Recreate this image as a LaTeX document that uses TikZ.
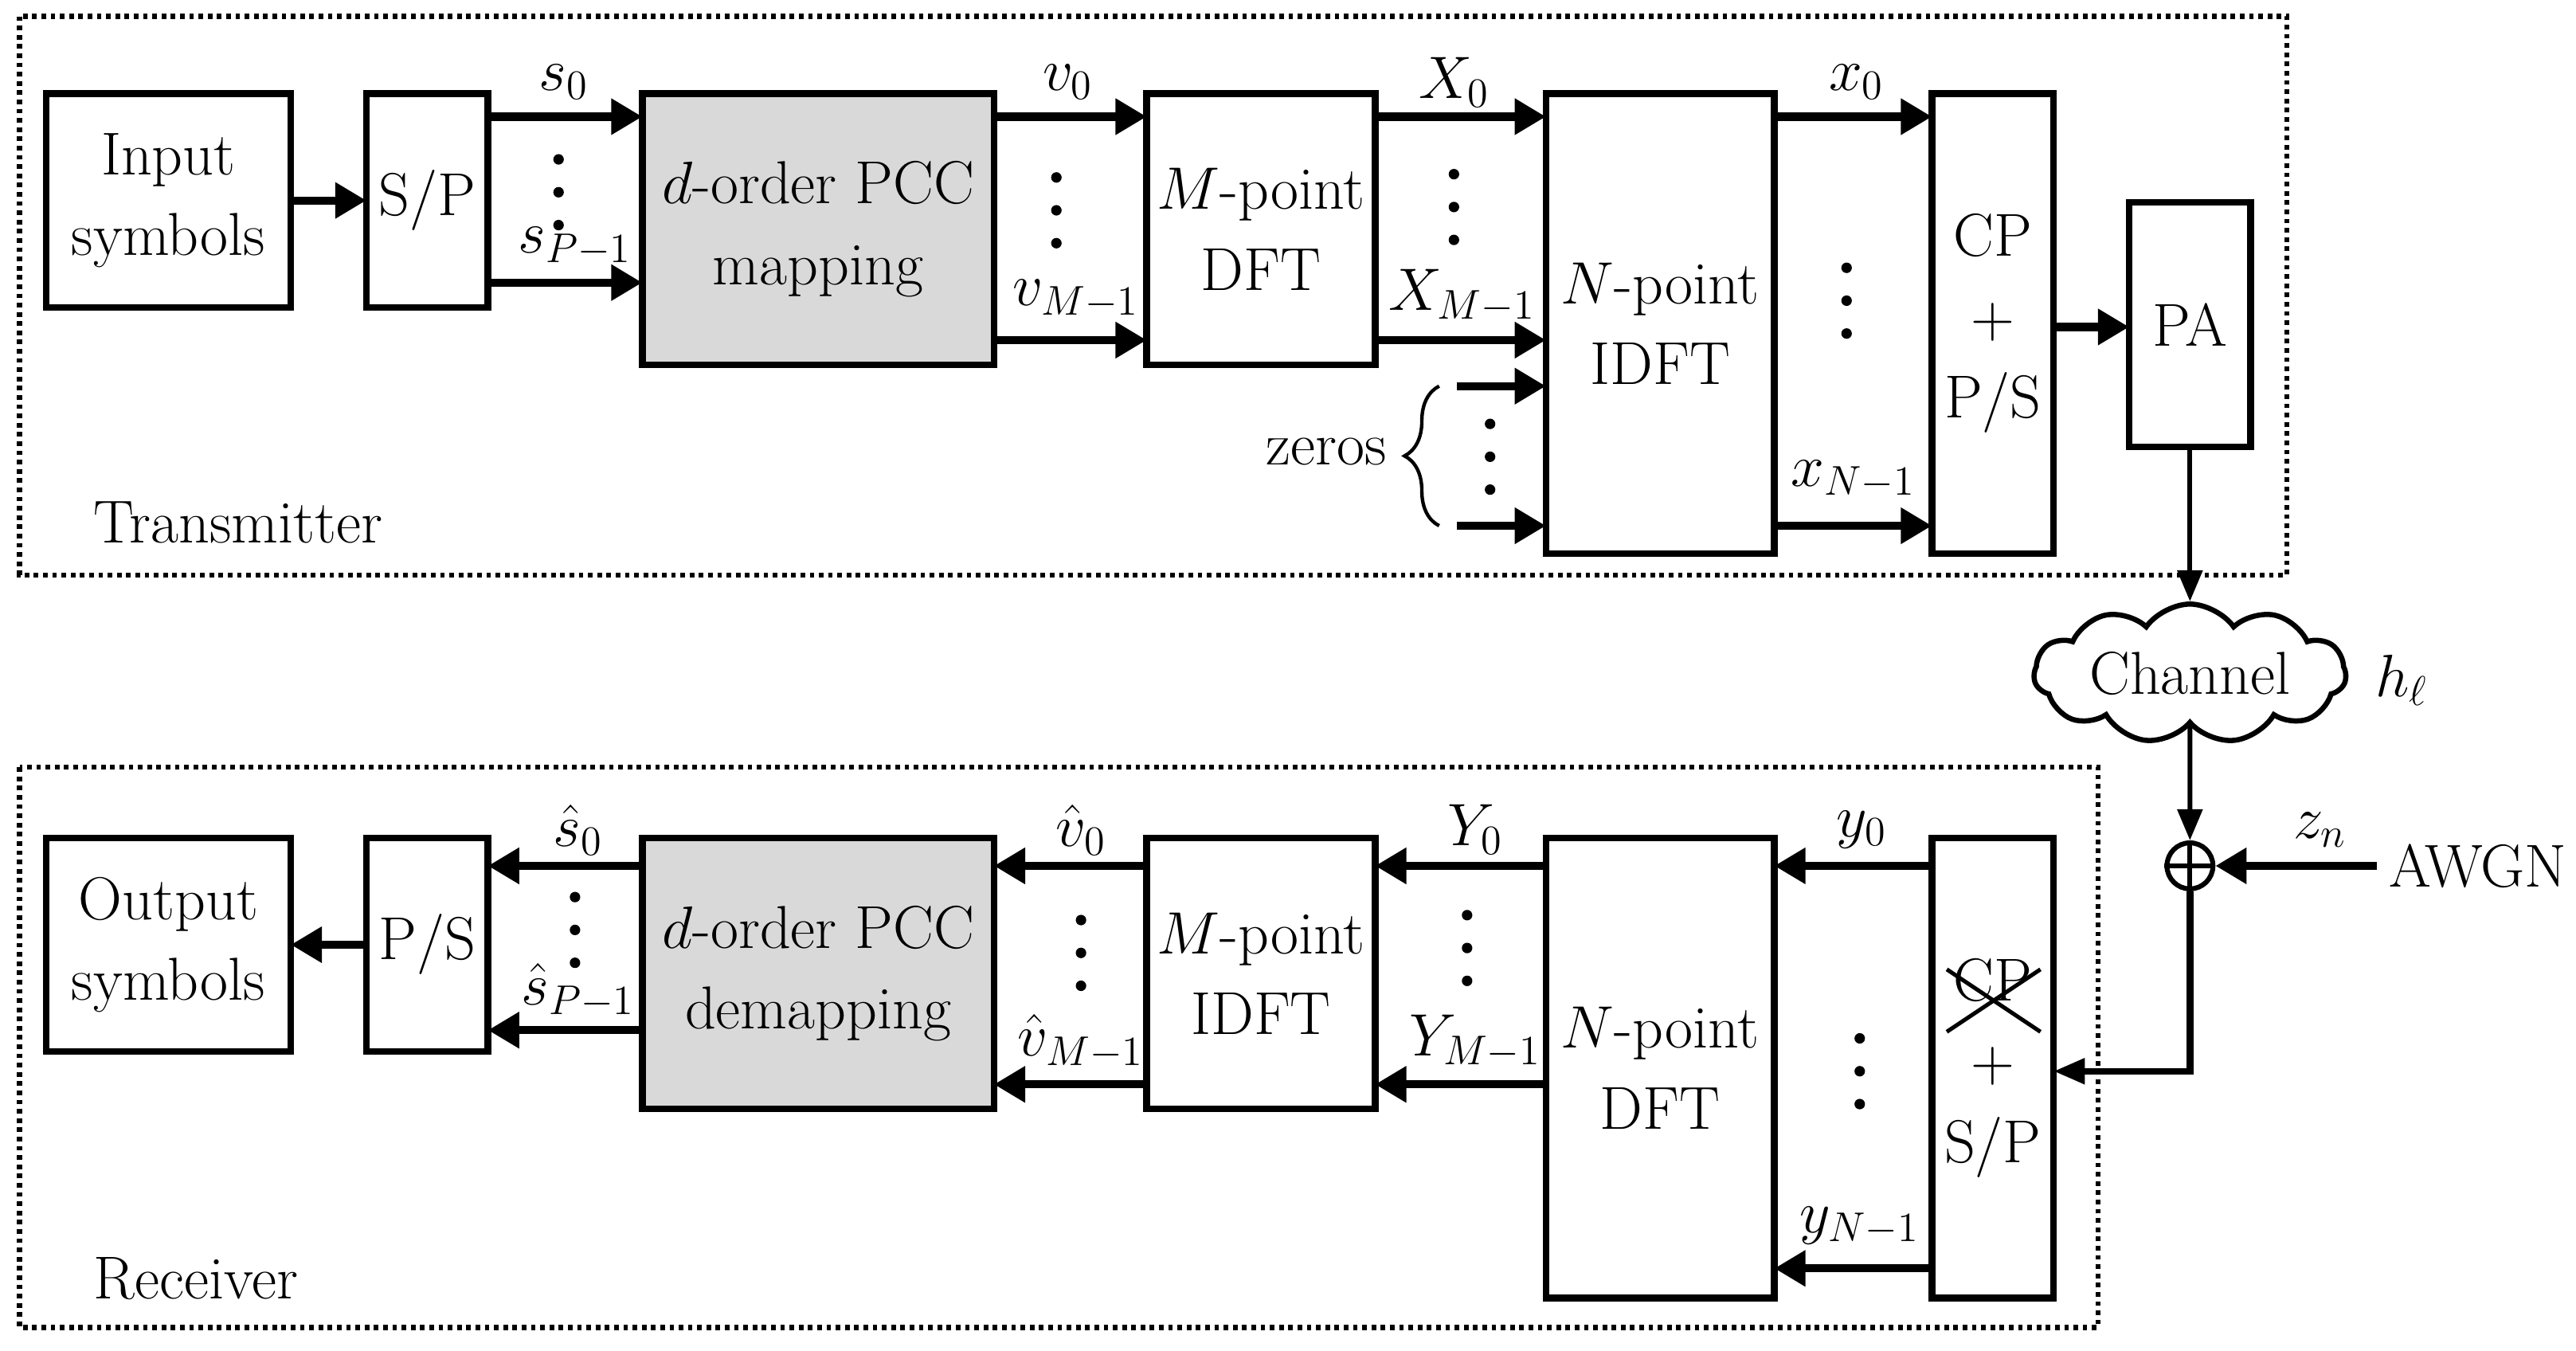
\documentclass[tikz,border=0pt]{standalone}
\usetikzlibrary{arrows.meta,shapes.symbols,decorations.pathreplacing}
\begin{document}
\begin{tikzpicture}[x=0.02cm,y=-0.02cm,
  blk/.style={draw,line width=2.3pt,inner sep=0pt},
  arr/.style={line width=2.8pt,-{Triangle[length=0.38cm,width=0.42cm]}},
  thin/.style={line width=1.7pt,-{Triangle[length=0.38cm,width=0.3cm]}},
  frame/.style={line width=1.8pt,dash pattern=on 1.6pt off 1.6pt},
  lbl/.style={font=\fontsize{21}{28}\selectfont,inner sep=1pt}]
\newcommand\vdts[2]{\foreach \k in {-1,0,1}{\fill (#1,{#2+\k*20}) circle (3.2);}}
\useasboundingbox (0,0) rectangle (1568,822);
% frames
\draw[frame] (12,10) rectangle (1392,350);
\draw[frame] (12,467) rectangle (1277,808);
\node[lbl,anchor=west] (tx) at (55,318) {Transmitter};
\node[lbl,anchor=west] (rx) at (55,778) {Receiver};
\def\bx#1#2#3#4#5#6{\node[blk,minimum width={(#4-#2)*0.02cm},minimum height={(#5-#3)*0.02cm},#6] (#1) at ({(#2+#4)/2},{(#3+#5)/2}) {};}
\bx{in}{28}{57}{177}{187}{}
\node[lbl,align=center] at (in) {Input\\symbols};
\bx{sp}{223}{57}{297}{187}{}
\node[lbl] at (sp) {S/P};
\bx{map}{391}{57}{605}{222}{fill={rgb,255:red,217;green,217;blue,217}}
\node[lbl,align=center] at (map) {$d$-order PCC\\mapping};
\bx{dft}{698}{57}{837}{222}{}
\node[lbl,align=center] at (dft) {$M$-point\\DFT};
\bx{idft}{941}{57}{1080}{337}{}
\node[lbl,align=center] at (idft) {$N$-point\\IDFT};
\bx{cpps}{1176}{57}{1250}{337}{}
\node[lbl,align=center] at (cpps) {CP\\+\\P/S};
\bx{pa}{1296}{123}{1370}{272}{}
\node[lbl] at (pa) {PA};
% tx arrows
\draw[arr] (177,122) -- (223,122);
\draw[arr] (297,71) -- (391,71);
\draw[arr] (297,172) -- (391,172);
\node[lbl] at (343,50) {$s_0$};
\node[lbl] at (350,150) {$s_{P-1}$};
\vdts{340}{117}
\draw[arr] (605,71) -- (698,71);
\draw[arr] (605,207) -- (698,207);
\node[lbl] at (650,50) {$v_0$};
\node[lbl] at (655,182) {$v_{M-1}$};
\vdts{643}{128}
\draw[arr] (837,71) -- (941,71);
\draw[arr] (837,207) -- (941,207);
\node[lbl] at (885,50) {$X_0$};
\node[lbl] at (890,180) {$X_{M-1}$};
\vdts{885}{126}
\draw[arr] (887,235) -- (941,235);
\draw[arr] (887,320) -- (941,320);
\vdts{907}{278}
\draw[line width=1.2pt,decorate,decoration={brace,amplitude=12pt}] (876,320) -- (876,235);
\node[lbl,anchor=east] (zeros) at (846,275) {zeros};
\draw[arr] (1080,71) -- (1176,71);
\draw[arr] (1080,320) -- (1176,320);
\node[lbl] at (1130,50) {$x_0$};
\node[lbl] at (1128,292) {$x_{N-1}$};
\vdts{1124}{183}
\draw[arr] (1250,199) -- (1296,199);
% channel
\node[cloud,cloud puffs=11,cloud puff arc=110,aspect=2.8,draw,line width=1.8pt,minimum width=3.8cm,minimum height=1.45cm,inner sep=0pt,font=\fontsize{21}{28}\selectfont] (ch) at (1333,410) {Channel};
\node[lbl] at (1462,414) {$h_\ell$};
\draw[thin] (pa.south) -- (ch.north);
\node[draw,circle,line width=1.7pt,minimum size=0.56cm,inner sep=0pt] (add) at (1333,527) {};
\draw[line width=1.7pt] (add.north) -- (add.south) (add.west) -- (add.east);
\draw[thin] (ch.south) -- (add.north);
\node[lbl,anchor=west] (awgn) at (1452,527) {AWGN};
\coordinate (aw) at (1447,527);
\draw[arr] (aw) -- (add.east);
\node[lbl] at (1412,505) {$z_n$};
% receiver blocks
\bx{out}{28}{510}{177}{640}{}
\node[lbl,align=center] at (out) {Output\\symbols};
\bx{ps}{223}{510}{297}{640}{}
\node[lbl] at (ps) {P/S};
\bx{dmap}{391}{510}{605}{675}{fill={rgb,255:red,217;green,217;blue,217}}
\node[lbl,align=center] at (dmap) {$d$-order PCC\\demapping};
\bx{midft}{698}{510}{837}{675}{}
\node[lbl,align=center] at (midft) {$M$-point\\IDFT};
\bx{ndft}{941}{510}{1080}{790}{}
\node[lbl,align=center] at (ndft) {$N$-point\\DFT};
\bx{cpsp}{1176}{510}{1250}{790}{}
\node[lbl,align=center] (cptxt) at (cpsp) {CP\\+\\S/P};
\draw[line width=1.4pt] (1185,590) -- (1242,628) (1185,628) -- (1242,590);
\coordinate (rin) at (1250,652);
\draw[thin,line width=2.3pt] (add.south) |- (rin);
\draw[arr] (223,575) -- (177,575);
\draw[arr] (391,527) -- (297,527);
\draw[arr] (391,627) -- (297,627);
\node[lbl] at (352,505) {$\hat s_0$};
\node[lbl] at (352,603) {$\hat s_{P-1}$};
\vdts{350}{566}
\draw[arr] (698,527) -- (605,527);
\draw[arr] (698,660) -- (605,660);
\node[lbl] at (658,505) {$\hat v_0$};
\node[lbl] at (658,634) {$\hat v_{M-1}$};
\vdts{658}{580}
\draw[arr] (941,527) -- (837,527);
\draw[arr] (941,660) -- (837,660);
\node[lbl] at (898,505) {$Y_0$};
\node[lbl] at (898,634) {$Y_{M-1}$};
\vdts{893}{577}
\draw[arr] (1176,527) -- (1080,527);
\draw[arr] (1176,772) -- (1080,772);
\node[lbl] at (1133,505) {$y_0$};
\node[lbl] at (1132,746) {$y_{N-1}$};
\vdts{1132}{652}
\end{tikzpicture}
\end{document}
